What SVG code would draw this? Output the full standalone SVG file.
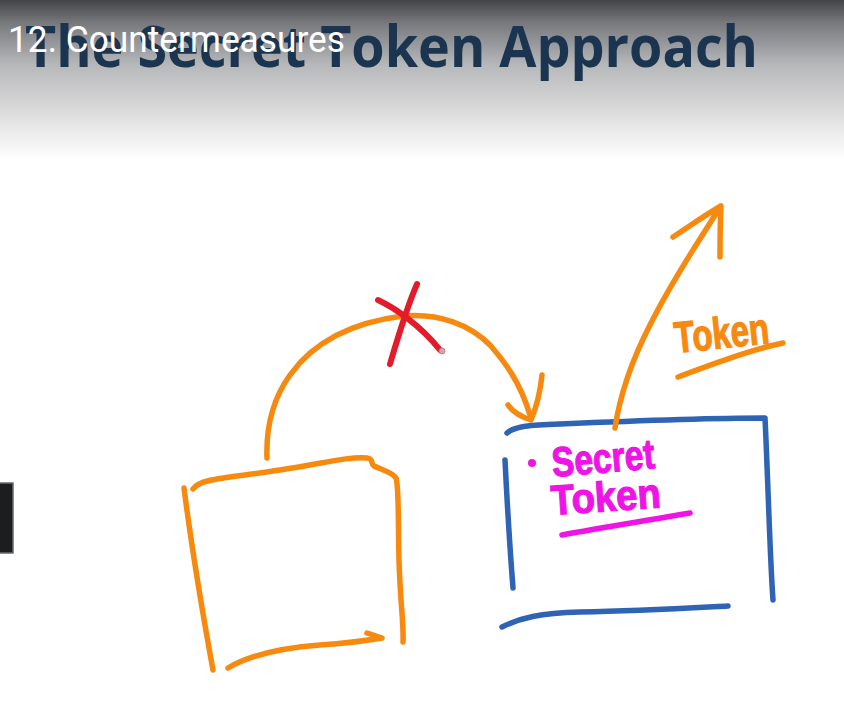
<svg xmlns="http://www.w3.org/2000/svg" width="844" height="718" viewBox="0 0 844 718">
<defs>
<linearGradient id="bg" x1="0" y1="0" x2="0" y2="1">
<stop offset="0" stop-color="#434448"/>
<stop offset="0.14" stop-color="#77787b"/>
<stop offset="0.4" stop-color="#b6b7b9"/>
<stop offset="0.62" stop-color="#d2d2d3"/>
<stop offset="0.85" stop-color="#eeeeee"/>
<stop offset="1" stop-color="#ffffff"/>
</linearGradient>
<style>
.o{fill:none;stroke:#f7890f;stroke-width:5.5;stroke-linecap:round;stroke-linejoin:round}
.b{fill:none;stroke:#2f63b4;stroke-width:5.5;stroke-linecap:round;stroke-linejoin:round}
.r{fill:none;stroke:#e31b2b;stroke-width:6;stroke-linecap:round}
.m{fill:none;stroke:#ef14e6;stroke-width:5.5;stroke-linecap:round}
.hw{font-family:"Liberation Sans",Arial,sans-serif;font-weight:bold;stroke-width:1.2}
</style>
</defs>
<rect width="844" height="718" fill="#ffffff"/>
<rect width="844" height="160" fill="url(#bg)"/>
<g id="title">
<text x="25" y="67" font-family="'Open Sans',sans-serif" font-weight="bold" font-size="58" fill="#1b3450" textLength="733" lengthAdjust="spacingAndGlyphs">The Secret Token Approach</text>
<text x="8" y="52" font-family="Roboto,'Liberation Sans',sans-serif" font-size="37" fill="#ffffff" textLength="337" lengthAdjust="spacingAndGlyphs">12. Countermeasures</text>
</g>
<rect x="-1" y="483" width="14" height="70" fill="#1c1d1f" stroke="#6a6b6d" stroke-width="1.5"/>
<g id="client">
<path class="o" d="M193 489 C200 478 230 478 280 470 C320 464 350 456 367 458 C374 459 370 463 374 466 C382 470 392 472 396 478 C399 486 398 520 399 560 C400 600 404 625 403 642"/>
<path class="o" d="M184 488 C192 550 202 610 213 670"/>
<path class="o" d="M228 668 C250 655 280 648 320 645 C350 643 370 640 382 638 L367 633"/>
</g>
<g id="server">
<path class="b" d="M507 433 C515 426 530 425 560 424 C630 421 700 418 765 418 C768 480 770 560 773 600"/>
<path class="b" d="M505 460 C507 500 510 550 513 588"/>
<path class="b" d="M502 627 C520 618 540 613 580 612 C640 611 690 608 728 606"/>
<circle cx="532" cy="463" r="4" fill="#ef14e6"/>
<text class="hw" x="553" y="477" font-size="42" fill="#ef14e6" stroke="#ef14e6" textLength="103" lengthAdjust="spacingAndGlyphs" transform="rotate(-5 553 477)">Secret</text>
<text class="hw" x="552" y="515" font-size="42" fill="#ef14e6" stroke="#ef14e6" textLength="110" lengthAdjust="spacingAndGlyphs" transform="rotate(-4 552 515)">Token</text>
<path class="m" d="M562 535 C600 528 650 520 690 513"/>
</g>
<g id="connectors">
<path class="o" d="M267 458 C266 430 272 400 290 375 C315 340 355 322 403 316 C440 313 470 325 490 345 C505 362 520 382 530 415"/>
<path class="o" d="M542 375 C540 395 536 408 531 420 C522 417 513 412 508 405"/>
<path class="o" d="M615 428 C620 395 632 360 650 325 C675 275 700 240 720 207"/>
<path class="o" d="M673 237 C690 226 705 215 721 206 C720 225 720 240 720 257"/>
</g>
<g id="blocked">
<path class="r" d="M417 284 C410 300 400 330 390 364"/>
<path class="r" d="M378 300 C395 308 420 325 440 350"/>
<circle cx="442" cy="351" r="3" fill="#d9a3ab" stroke="#a77" stroke-width="0.8"/>
</g>
<g id="token-label">
<text class="hw" x="676" y="353" font-size="44" fill="#f7890f" stroke="#f7890f" textLength="95" lengthAdjust="spacingAndGlyphs" transform="rotate(-6 676 353)">Token</text>
<path class="o" d="M678 377 C710 365 750 350 783 343"/>
</g>
</svg>
